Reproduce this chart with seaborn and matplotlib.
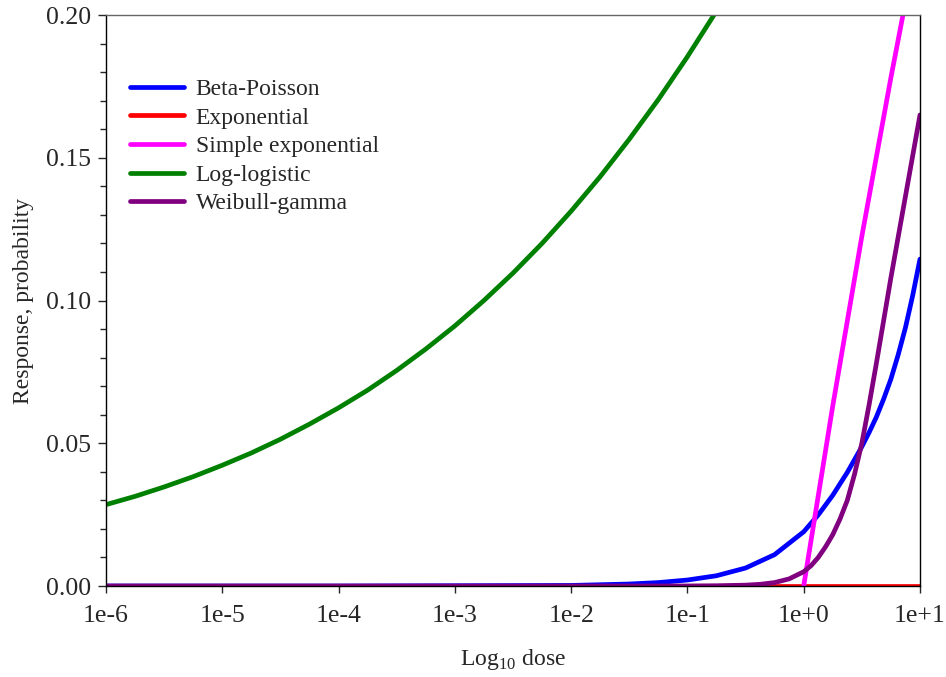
import matplotlib
matplotlib.use("Agg")
import matplotlib.pyplot as plt
import seaborn as sns
from matplotlib.ticker import MultipleLocator

# values (x = log10 dose)
beta_poisson_x = [-6, -4, -2, -1.5, -1.25, -1, -0.75, -0.5, -0.25, 0, 0.125, 0.25, 0.375, 0.5, 0.5625,
                  0.625, 0.6875, 0.75, 0.8125, 0.875, 0.9375, 1]
beta_poisson_y = [0.0, 0.0, 0.0002, 0.0007, 0.0012, 0.0021, 0.0036, 0.0063, 0.0110, 0.0190, 0.0249, 0.0318, 0.0398, 0.0488, 0.0538,
                  0.0592, 0.0655, 0.0725, 0.0810, 0.0905, 0.1018, 0.1145]

exponential_x = [-6, -3, 0, 1]
exponential_y = [0.0, 0.0, 0.0, 0.0]

simple_exp_x = [0, 0.25, 0.5, 0.75, 0.875, 1]
simple_exp_y = [0.0, 0.0631, 0.1225, 0.1781, 0.2045, 0.23]

log_logistic_x = [-6, -5.75, -5.5, -5.25, -5, -4.75, -4.5, -4.25, -4, -3.75, -3.5, -3.25,
                  -3, -2.75, -2.5, -2.25, -2, -1.75, -1.5, -1.25, -1, -0.75, -0.5]
log_logistic_y = [0.0285, 0.0314, 0.0347, 0.0383, 0.0423, 0.0466, 0.0514, 0.0567, 0.0624, 0.0686, 0.0755, 0.0830,
                  0.0911, 0.1000, 0.1096, 0.1200, 0.1313, 0.1434, 0.1565, 0.1704, 0.1854, 0.2014, 0.2184]

weibull_gamma_x = [-6, -2, -1, -0.75, -0.5, -0.375, -0.25, -0.125, 0, 0.0625, 0.125, 0.1875, 0.25, 0.3125,
                   0.375, 0.4375, 0.5, 0.5625, 0.625, 0.75, 0.875, 1]
weibull_gamma_y = [0.0, 0.0, 0.00002, 0.0001, 0.0003, 0.0006, 0.0012, 0.0025, 0.0050, 0.0071, 0.0100, 0.0137, 0.0180, 0.0235,
                   0.0300, 0.0392, 0.0500, 0.0635, 0.0780, 0.1080, 0.1365, 0.1650]

series_names = ["Beta-Poisson", "Exponential", "Simple exponential", "Log-logistic", "Weibull-gamma"]
series_colors = ["#0000ff", "#ff0000", "#ff00ff", "#008000", "#800080"]

tick_positions = [-6, -5, -4, -3, -2, -1, 0, 1]
tick_labels = ["1e-6", "1e-5", "1e-4", "1e-3", "1e-2", "1e-1", "1e+0", "1e+1"]


def main():
    sns.set_style("ticks")
    plt.rcParams["font.family"] = ["Liberation Serif", "DejaVu Serif"]
    plt.rcParams["mathtext.fontset"] = "custom"
    plt.rcParams["mathtext.rm"] = "Liberation Serif"

    fig = plt.figure(figsize=(9.46, 6.77), dpi=100)
    ax = fig.add_axes([0.112, 0.1344, 0.8605, 0.8434])

    series = [
        (beta_poisson_x, beta_poisson_y),
        (exponential_x, exponential_y),
        (simple_exp_x, simple_exp_y),
        (log_logistic_x, log_logistic_y),
        (weibull_gamma_x, weibull_gamma_y),
    ]
    for (xs, ys), name, color in zip(series, series_names, series_colors):
        sns.lineplot(x=xs, y=ys, ax=ax, color=color, linewidth=3.4, label=name)

    ax.set_xlim(-6, 1)
    ax.set_ylim(0, 0.20)
    ax.set_xticks(tick_positions)
    ax.set_xticklabels(tick_labels)
    ax.yaxis.set_major_locator(MultipleLocator(0.05))
    ax.yaxis.set_minor_locator(MultipleLocator(0.01))
    ax.yaxis.set_major_formatter(matplotlib.ticker.FormatStrFormatter("%.2f"))

    ax.tick_params(axis="x", direction="out", length=5, width=1, pad=9, labelsize=18.5)
    ax.tick_params(axis="y", which="major", direction="out", length=6, width=1, pad=5, labelsize=18.5)
    ax.tick_params(axis="y", which="minor", direction="out", length=4, width=1)

    for side in ["left", "bottom", "right"]:
        ax.spines[side].set_color("black")
        ax.spines[side].set_linewidth(1)
    ax.spines["top"].set_color("#666666")
    ax.spines["top"].set_linewidth(1)

    ax.set_xlabel("Log$_{10}$ dose", fontsize=17, labelpad=14)
    ax.set_ylabel("Response, probability", fontsize=17, labelpad=8)

    ax.legend(
        loc="upper left",
        bbox_to_anchor=(0.029, 0.889),
        frameon=False,
        fontsize=17,
        handlelength=2.3,
        handletextpad=0.5,
        labelspacing=0.3,
        borderpad=0,
        borderaxespad=0,
    )

    fig.savefig("out.png", dpi=100)


if __name__ == "__main__":
    main()
